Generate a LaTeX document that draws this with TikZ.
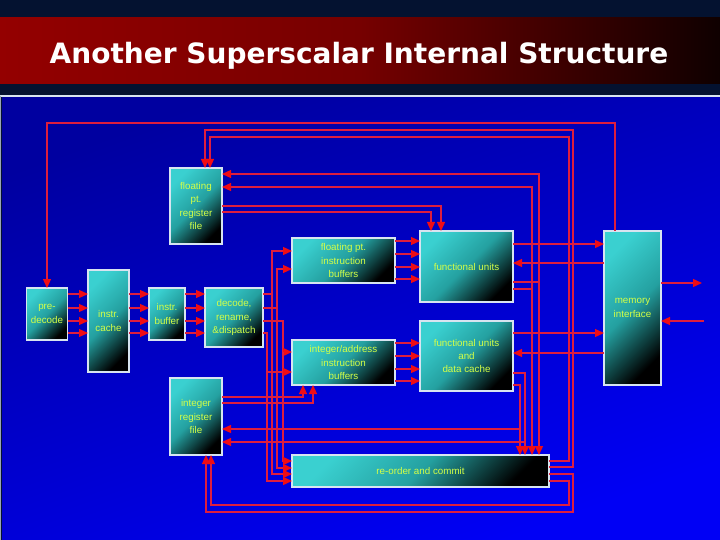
\documentclass[tikz,border=0pt]{standalone}
\usepackage{fontspec}
\setmainfont{Liberation Sans}
\newfontfamily\titlefont{DejaVu Sans}
\usetikzlibrary{arrows.meta}
\definecolor{navy}{RGB}{4,18,48}
\definecolor{titleL}{RGB}{148,0,0}
\definecolor{titleM}{RGB}{118,0,0}
\definecolor{titleR}{RGB}{15,0,0}
\definecolor{blueT}{RGB}{0,0,160}
\definecolor{blueB}{RGB}{0,0,245}
\definecolor{wirec}{RGB}{222,30,62}
\definecolor{tipc}{RGB}{240,12,20}
\definecolor{boxtop}{RGB}{58,208,208}
\definecolor{boxmid}{RGB}{36,160,160}
\definecolor{boxline}{RGB}{215,228,240}
\definecolor{boxtext}{RGB}{212,255,70}
\tikzset{
  box/.style={draw=boxline, line width=1.2pt, top color=boxtop, bottom color=black,
    middle color=boxmid, shading angle=45, inner sep=1pt, outer sep=0pt,
    align=center, text=boxtext, font=\fontsize{9.8}{13.3}\selectfont},
  wire/.style={draw=wirec, line width=1.3pt},
  arr/.style={-{Triangle[length=9pt,width=8pt,color=tipc]}},
}
\begin{document}
\begin{tikzpicture}[x=1pt,y=-1pt]
\useasboundingbox (0,0) rectangle (720,540);
% background
\fill[navy] (0,0) rectangle (720,540);
\shade[left color=titleL, right color=titleR, middle color=titleM] (0,18) rectangle (720,84);
\shade[top color=blueT, bottom color=blueB, shading angle=20] (2,97) rectangle (720,540);
\draw[boxline, line width=1.4pt] (0,96) -- (720,96);
\draw[boxline!70!navy, line width=0.8pt] (0.5,96) -- (0.5,540);
% title
\node[anchor=base, text=white, inner sep=0pt] (title) at (359,63.5)
  {\scalebox{1.0}[1]{\titlefont\bfseries\fontsize{28}{30}\selectfont Another Superscalar Internal Structure}};

% boxes
\node[box, minimum width=52pt, minimum height=76pt] (fpr) at (196,206) {floating\\pt.\\register\\file};
\node[box, minimum width=41pt, minimum height=52pt] (pre) at (47,314) {pre-\\decode};
\node[box, minimum width=41pt, minimum height=102pt] (ic) at (108.5,321) {instr.\\cache};
\node[box, minimum width=36pt, minimum height=52pt] (ib) at (167,314) {instr.\\buffer};
\node[box, minimum width=58pt, minimum height=59pt] (dec) at (234,317.5) {decode,\\rename,\\\&dispatch};
\node[box, minimum width=52pt, minimum height=77pt] (irf) at (196,416.5) {integer\\register\\file};
\node[box, minimum width=103pt, minimum height=45pt] (fpb) at (343.5,260.5) {floating pt.\\instruction\\buffers};
\node[box, minimum width=93pt, minimum height=71pt] (fu) at (466.5,266.5) {functional units};
\node[box, minimum width=103pt, minimum height=45pt] (iab) at (343.5,362.5) {integer/address\\instruction\\buffers};
\node[box, minimum width=93pt, minimum height=70pt] (fudc) at (466.5,356) {functional units\\and\\data cache};
\node[box, minimum width=257pt, minimum height=32pt] (roc) at (420.5,471) {re-order and commit};
\node[box, minimum width=57pt, minimum height=154pt] (mem) at (632.5,308) {memory\\interface};

\coordinate (out1) at (702,283);
\coordinate (in1) at (704,321);

% pipeline front end
\foreach \yy in {294,308,321,333} {
  \draw[wire,arr] (pre.east |- 0,\yy) -- (ic.west |- 0,\yy);
  \draw[wire,arr] (ic.east |- 0,\yy) -- (ib.west |- 0,\yy);
  \draw[wire,arr] (ib.east |- 0,\yy) -- (dec.west |- 0,\yy);
}
% buffers to functional units
\foreach \yy in {241,254,267,279}
  \draw[wire,arr] (fpb.east |- 0,\yy) -- (fu.west |- 0,\yy);
\foreach \yy in {343,356,369,381}
  \draw[wire,arr] (iab.east |- 0,\yy) -- (fudc.west |- 0,\yy);

% dispatch
\draw[wire,arr] (dec.east |- 0,294) -- (272,294) |- (fpb.west |- 0,251);
\draw[wire,arr] (272,294) |- (roc.west |- 0,474);
\draw[wire,arr] (dec.east |- 0,308) -- (277,308) |- (fpb.west |- 0,269);
\draw[wire,arr] (277,308) |- (roc.west |- 0,468);
\draw[wire,arr] (dec.east |- 0,321) -- (283,321) |- (iab.west |- 0,352);
\draw[wire,arr] (283,352) |- (roc.west |- 0,461);
\draw[wire,arr] (dec.east |- 0,333) -- (267,333) |- (iab.west |- 0,372);
\draw[wire,arr] (267,372) |- (roc.west |- 0,481);

% register files to units / buffers
\draw[wire,arr] (fpr.east |- 0,206) -- (441,206) -- (fu.north -| 441,0);
\draw[wire,arr] (fpr.east |- 0,212) -- (431,212) -- (fu.north -| 431,0);
\draw[wire,arr] (irf.east |- 0,397) -- (303,397) -- (iab.south -| 303,0);
\draw[wire,arr] (irf.east |- 0,403) -- (313,403) -- (iab.south -| 313,0);

% results back
\draw[wire,arr] (fu.east |- 0,282) -- (539,282) -- (539,174) -- (fpr.east |- 0,174);
\draw[wire,arr] (539,282) -- (roc.north -| 539,0);
\draw[wire,arr] (fu.east |- 0,289) -- (532,289) -- (532,187) -- (fpr.east |- 0,187);
\draw[wire,arr] (532,289) -- (roc.north -| 532,0);
\draw[wire,arr] (fudc.east |- 0,373) -- (525,373) -- (525,442) -- (irf.east |- 0,442);
\draw[wire,arr] (525,442) -- (roc.north -| 525,0);
\draw[wire,arr] (fudc.east |- 0,385) -- (520,385) -- (520,429) -- (irf.east |- 0,429);
\draw[wire,arr] (520,429) -- (roc.north -| 520,0);

% commit to register files
\draw[wire,arr] (roc.east |- 0,467) -- (573,467) -- (573,130) -- (205,130) -- (fpr.north -| 205,0);
\draw[wire,arr] (roc.east |- 0,461) -- (569,461) -- (569,137) -- (210,137) -- (fpr.north -| 210,0);
\draw[wire,arr] (roc.east |- 0,474) -- (573,474) -- (573,512) -- (206,512) -- (irf.south -| 206,0);
\draw[wire,arr] (roc.east |- 0,481) -- (569,481) -- (569,505) -- (211,505) -- (irf.south -| 211,0);

% memory interface
\draw[wire,arr] (mem.north -| 615,0) -- (615,123) -- (47,123) -- (pre.north);
\draw[wire,arr] (fu.east |- 0,244) -- (mem.west |- 0,244);
\draw[wire,arr] (mem.west |- 0,263) -- (fu.east |- 0,263);
\draw[wire,arr] (fudc.east |- 0,333) -- (mem.west |- 0,333);
\draw[wire,arr] (mem.west |- 0,353) -- (fudc.east |- 0,353);
\draw[wire,arr] (mem.east |- 0,283) -- (out1);
\draw[wire,arr] (in1) -- (mem.east |- 0,321);
\end{tikzpicture}
\end{document}
